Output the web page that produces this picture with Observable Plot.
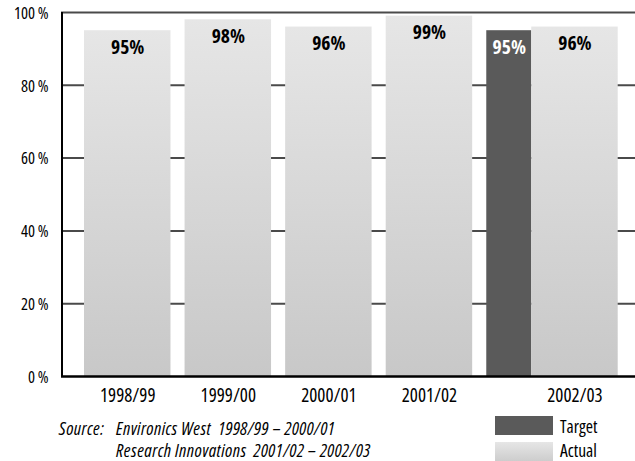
<!DOCTYPE html>
<html>
<head>
<meta charset="utf-8">
<script src="https://cdn.jsdelivr.net/npm/d3@7"></script>
<script src="https://cdn.jsdelivr.net/npm/@observablehq/plot@0.6"></script>
<style>
  html, body { margin: 0; padding: 0; background: #fff; }
  body { width: 635px; height: 461px; overflow: hidden;
         font-family: "Open Sans", sans-serif; font-stretch: 75%; }
  #chart svg { display: block; font-stretch: 75% !important; }
  #foot { position: relative; width: 635px; height: 51px; font-size: 18px; color: #000; }
  #foot .t { position: absolute; white-space: pre; line-height: 22px; }
  #foot .src { font-style: italic; letter-spacing: 0.45px; }
  #foot .sw { position: absolute; left: 495px; width: 58px; height: 19px; }
  #foot .lg { position: absolute; left: 560px; line-height: 19px; font-size: 17.5px; }
</style>
</head>
<body>
<div id="chart"></div>
<div id="foot">
  <div class="t src" style="left:59px;top:7px">Source:</div>
  <div class="t src" style="left:116px;top:7px">Environics West  1998/99 – 2000/01</div>
  <div class="t src" style="left:116px;top:29px">Research Innovations  2001/02 – 2002/03</div>
  <div class="sw" style="top:6px;background:#5a5a5a"></div>
  <div class="lg" style="top:7px">Target</div>
  <div class="sw" style="top:32px;background:linear-gradient(#e6e6e6,#cdcdcd)"></div>
  <div class="lg" style="top:31px">Actual</div>
</div>
<script>
// Satisfaction ratings by survey year
const seasons = ["1998/99", "1999/00", "2000/01", "2001/02", "2002/03"];
const actual = [95, 98, 96, 99, 96];
const target = [null, null, null, null, 95];
const yTicks = [0, 20, 40, 60, 80, 100];

// Bar layout in bar-width units: a gap between seasons, and a narrower
// target bar sitting flush against the left of its season's actual bar.
const step = 1.163;
const targetWidth = 0.52;

const bars = [];
const labels = [];
seasons.forEach((s, i) => {
  let start = i * step;
  if (target[i] != null) {
    bars.push({season: s, kind: "Target", x1: start, x2: start + targetWidth, value: target[i]});
    start += targetWidth;
  }
  bars.push({season: s, kind: "Actual", x1: start, x2: start + 1, value: actual[i]});
  labels.push({season: s, x: start + 0.5});
});
const xEnd = d3.max(bars, d => d.x2);
const xDomain = [-0.266, xEnd + 0.2];

const chart = Plot.plot({
  width: 635,
  height: 410,
  marginLeft: 61,
  marginRight: 0,
  marginTop: 12,
  marginBottom: 34,
  style: {fontFamily: '"Open Sans", sans-serif', fontStretch: "75%", fontSize: "16.5px", color: "#000", background: "#fff"},
  x: {type: "linear", domain: xDomain, axis: null},
  y: {domain: [0, 100], axis: null},
  marks: [
    Plot.ruleY(yTicks.filter(d => d > 0), {stroke: "#4a4a4a", strokeWidth: 2}),
    Plot.rectY(bars, {
      x1: "x1", x2: "x2", y1: 0, y2: "value",
      fill: d => d.kind === "Target" ? "#5a5a5a" : "url(#actualFill)"
    }),
    Plot.text(bars, {
      x: d => (d.x1 + d.x2) / 2, y: "value",
      text: d => `${d.value}%`,
      dy: 17, fontWeight: "bold", fontSize: 19.5,
      fill: d => d.kind === "Target" ? "#fff" : "#000"
    }),
    Plot.ruleY([0], {stroke: "#000", strokeWidth: 2.5}),
    Plot.ruleX([xDomain[0]], {x: d => d, stroke: "#000", strokeWidth: 2, dx: 0.5}),
    Plot.axisY(yTicks, {
      tickSize: 0, tickPadding: 13, dy: 1, label: null,
      tickFormat: d => `${d}\u2009%`, fontSize: 16.5
    }),
    Plot.text(labels, {
      x: "x", text: "season", frameAnchor: "bottom",
      dy: 19, fontSize: 19, lineAnchor: "middle"
    })
  ]
});

// Vertical shading for the actual bars
d3.select(chart).insert("defs", ":first-child").html(
  `<linearGradient id="actualFill" x1="0" y1="0" x2="0" y2="1">
     <stop offset="0" stop-color="#e6e6e6"/>
     <stop offset="1" stop-color="#c8c8c8"/>
   </linearGradient>`
);

document.getElementById("chart").append(chart);
</script>
</body>
</html>
